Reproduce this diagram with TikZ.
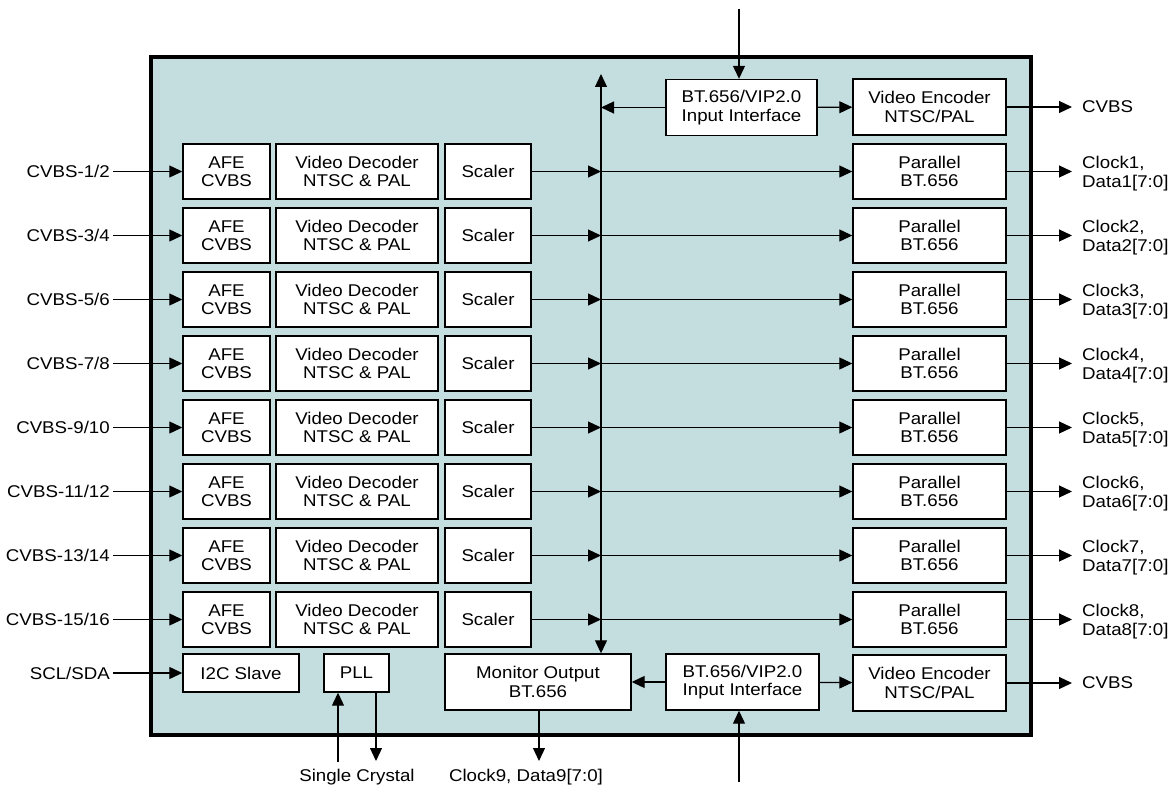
\documentclass[tikz,border=0pt]{standalone}
\usepackage{fontspec}
\setmainfont{Liberation Sans}[FakeStretch=1.1]
\usetikzlibrary{arrows.meta}
\definecolor{chipfill}{RGB}{196,221,223}
\tikzset{
  blk/.style={draw,fill=white,line width=1.4pt,align=center,inner sep=0pt,font=\fontsize{17}{18.5}\selectfont},
  arr/.style={-{Triangle[length=13pt,width=12pt]},line width=1.2pt},
  both/.style={{Triangle[length=13pt,width=12pt]}-{Triangle[length=13pt,width=12pt]},line width=1.2pt},
  inlbl/.style={anchor=east,inner xsep=3pt,font=\fontsize{17}{18.5}\selectfont},
  outlbl/.style={anchor=west,inner xsep=10pt,align=left,font=\fontsize{17}{18.5}\selectfont}
}
\begin{document}
\begin{tikzpicture}[x=1pt,y=-1pt]
\useasboundingbox (0,0) rectangle (1170,786);
\draw[fill=chipfill,line width=3.5pt] (151,57) rectangle (1031,735);
\coordinate (bus) at (601,74);
% channel rows
\foreach \i in {1,...,8}{
  \pgfmathsetmacro{\y}{171.5+64*(\i-1)}
  \pgfmathtruncatemacro{\a}{2*\i-1}\pgfmathtruncatemacro{\b}{2*\i}
  \node[blk,minimum width=87pt,minimum height=55pt] (afe\i) at (226.5,\y) {AFE\\CVBS};
  \node[blk,minimum width=162pt,minimum height=55pt] (dec\i) at (357,\y) {Video Decoder\\NTSC \& PAL};
  \node[blk,minimum width=86pt,minimum height=55pt] (scl\i) at (488,\y) {Scaler};
  \node[blk,minimum width=153pt,minimum height=55pt] (par\i) at (929.5,\y) {Parallel\\BT.656};
  \node[inlbl] (in\i) at (113,\y) {CVBS-\a/\b};
  \node[outlbl] (out\i) at (1072,\y+2) {Clock\i,\\Data\i[7:0]};
  \draw[arr] (in\i) -- (afe\i);
  \draw[arr] (scl\i) -- (scl\i.east -| bus);
  \draw[arr] (scl\i.east -| bus) -- (par\i);
  \draw[arr] (par\i) -- (out\i.west |- par\i.east);
}
% top row
\node[blk,minimum width=151pt,minimum height=56pt] (vipT) at (741.5,107.5) {BT.656/VIP2.0\\Input Interface};
\node[blk,minimum width=153pt,minimum height=56pt] (encT) at (929.5,107) {Video Encoder\\NTSC/PAL};
\node[outlbl] (cvT) at (1072,107) {CVBS};
\coordinate (vtin) at (739,9);
\draw[arr] (vtin) -- (vtin |- vipT.north);
\draw[arr] (vipT) -- (encT);
\draw[arr] (vipT.west) -- (vipT.west -| bus);
\draw[arr] (encT) -- (cvT.west |- encT.east);
% bottom row
\node[blk,minimum width=116pt,minimum height=38pt] (i2c) at (241,673) {I2C Slave};
\node[blk,minimum width=65pt,minimum height=38pt] (pll) at (356.5,673) {PLL};
\node[blk,minimum width=186pt,minimum height=56pt] (mon) at (538,682) {Monitor Output\\BT.656};
\node[blk,minimum width=153pt,minimum height=56pt] (vipB) at (742.5,682) {BT.656/VIP2.0\\Input Interface};
\node[blk,minimum width=153pt,minimum height=56pt] (encB) at (929.5,683) {Video Encoder\\NTSC/PAL};
\node[inlbl] (sda) at (113,673) {SCL/SDA};
\node[outlbl] (cvB) at (1072,683) {CVBS};
\node[font=\fontsize{17}{18.5}\selectfont] (xtal) at (357,777) {Single Crystal};
\node[font=\fontsize{17}{18.5}\selectfont] (clk9) at (526,777) {Clock9, Data9[7:0]};
\draw[arr] (sda) -- (i2c);
\draw[arr] (vipB) -- (mon);
\draw[arr] (vipB) -- (encB);
\draw[arr] (encB) -- (cvB.west |- encB.east);
\coordinate (vbin) at (739,782);
\draw[arr] (vbin) -- (vbin |- vipB.south);
\coordinate (xin) at (338,762);
\draw[arr] (xin) -- (xin |- pll.south);
\coordinate (xout) at (376,761);
\draw[arr] (xout |- pll.south) -- (xout);
\coordinate (m9) at (539,761);
\draw[arr] (mon.south -| m9) -- (m9);
% shared bus
\draw[both] (bus) -- (bus |- mon.north);
\end{tikzpicture}
\end{document}
